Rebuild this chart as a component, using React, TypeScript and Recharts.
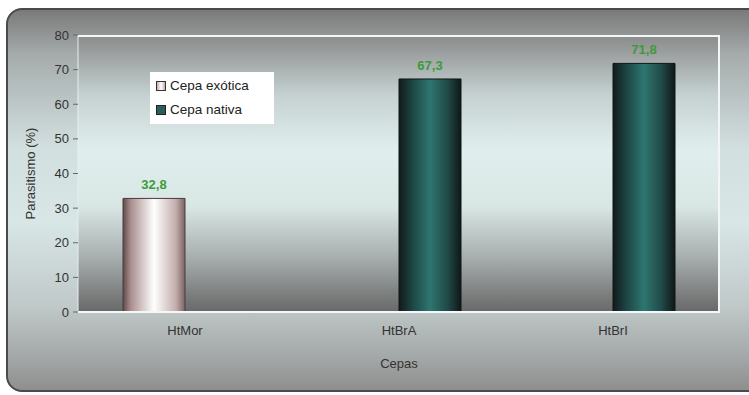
import React from 'react';
import { BarChart, Bar, XAxis, YAxis, CartesianGrid, LabelList, Legend, Label } from 'recharts';

const categories = ['HtMor', 'HtBrA', 'HtBrI'];
const exotica = [32.8, null, null];
const nativa = [null, 67.3, 71.8];
const yTicks = [0, 10, 20, 30, 40, 50, 60, 70, 80];

const data = categories.map((c, i) => ({ name: c, exotica: exotica[i], nativa: nativa[i] }));

const FONT = 'Arial, "Liberation Sans", sans-serif';

const fmt = (v: any) => (v == null ? '' : String(v).replace('.', ','));

const LegendBox = () => (
  <div
    style={{
      background: '#ffffff',
      width: 124,
      height: 52,
      boxSizing: 'border-box',
      padding: '2px 0 0 6px',
      fontFamily: FONT,
      fontSize: 13.5,
      color: '#222',
      lineHeight: '24px',
    }}
  >
    <div style={{ display: 'flex', alignItems: 'center' }}>
      <span style={{ width: 8, height: 8, border: '1.5px solid #333', background: 'linear-gradient(90deg,#caa,#fff,#caa)', marginRight: 4, display: 'inline-block' }} />
      Cepa exótica
    </div>
    <div style={{ display: 'flex', alignItems: 'center' }}>
      <span style={{ width: 8, height: 8, border: '1.5px solid #222', background: '#2a5e5a', marginRight: 4, display: 'inline-block' }} />
      Cepa nativa
    </div>
  </div>
);

export default function App() {
  return (
    <div style={{ position: 'absolute', left: 0, top: 0, width: 749, height: 395, overflow: 'hidden', background: '#ffffff' }}>
      <div
        style={{
          position: 'absolute',
          left: 6,
          top: 8,
          width: 770,
          height: 384,
          boxSizing: 'border-box',
          border: '2px solid #4a4a4a',
          borderRadius: 16,
          background:
            'linear-gradient(180deg, #7a7a7a 0%, #a6acac 12%, #d2dfdf 36%, #d8e6e6 56%, #c0c8c8 78%, #a2a6a6 92%, #8e8e8e 100%)',
        }}
      />
      <div style={{ position: 'absolute', left: 0, top: 0 }}>
        <BarChart
          width={749}
          height={395}
          data={data}
          margin={{ top: 35, right: 29, left: 0, bottom: 0 }}
          barGap={0}
          barSize={62}
        >
          <defs>
            <linearGradient id="plotGrad" x1="0" y1="0" x2="0" y2="1">
              <stop offset="0%" stopColor="#8a8a8a" />
              <stop offset="22%" stopColor="#c6d2d2" />
              <stop offset="42%" stopColor="#e0efed" />
              <stop offset="62%" stopColor="#d8e6e4" />
              <stop offset="80%" stopColor="#a8afaf" />
              <stop offset="100%" stopColor="#686868" />
            </linearGradient>
            <linearGradient id="exoGrad" x1="0" y1="0" x2="1" y2="0">
              <stop offset="0%" stopColor="#5e4a4b" />
              <stop offset="12%" stopColor="#a88c8d" />
              <stop offset="50%" stopColor="#ffffff" />
              <stop offset="85%" stopColor="#c4aeae" />
              <stop offset="100%" stopColor="#7a6263" />
            </linearGradient>
            <linearGradient id="natGrad" x1="0" y1="0" x2="1" y2="0">
              <stop offset="0%" stopColor="#111a1a" />
              <stop offset="22%" stopColor="#1d4644" />
              <stop offset="50%" stopColor="#2e7670" />
              <stop offset="78%" stopColor="#204a48" />
              <stop offset="100%" stopColor="#0f1818" />
            </linearGradient>
          </defs>
          <CartesianGrid horizontal={false} vertical={false} fill="url(#plotGrad)" />
          <XAxis
            dataKey="name"
            height={83}
            axisLine={{ stroke: '#f4f8f8', strokeWidth: 2 }}
            tickLine={false}
            tickSize={6}
            tickMargin={8}
            tick={{ fill: '#333', fontSize: 13, fontFamily: FONT }}
          >
            <Label value="Cepas" position="insideBottom" offset={27} fill="#333" fontSize={13} fontFamily={FONT} />
          </XAxis>
          <YAxis
            width={78}
            domain={[0, 80]}
            ticks={yTicks}
            interval={0}
            axisLine={{ stroke: '#e8eeee', strokeWidth: 1 }}
            tickLine={{ stroke: '#666' }}
            tickSize={5}
            tickMargin={4}
            tick={{ fill: '#333', fontSize: 13, fontFamily: FONT }}
          >
            <Label value="Parasitismo (%)" angle={-90} position="center" dx={-9} fill="#333" fontSize={13} fontFamily={FONT} />
          </YAxis>
          <Legend
            layout="horizontal"
            verticalAlign="middle"
            align="center"
            wrapperStyle={{ left: 150, top: 72, width: 124, height: 52 }}
            content={() => <LegendBox />}
          />
          <Bar dataKey="exotica" fill="url(#exoGrad)" stroke="#4a3c3c" strokeWidth={1} isAnimationActive={false}>
            <LabelList dataKey="exotica" position="top" offset={9} formatter={fmt} fill="#3c9a3c" fontSize={13} fontWeight="bold" fontFamily={FONT} />
          </Bar>
          <Bar dataKey="nativa" fill="url(#natGrad)" stroke="#0e1616" strokeWidth={1} isAnimationActive={false}>
            <LabelList dataKey="nativa" position="top" offset={9} formatter={fmt} fill="#3c9a3c" fontSize={13} fontWeight="bold" fontFamily={FONT} />
          </Bar>
        </BarChart>
      </div>
      <div
        style={{
          position: 'absolute',
          left: 78,
          top: 35,
          width: 642,
          height: 277,
          boxSizing: 'border-box',
          borderTop: '2px solid #f2f6f6',
          borderRight: '2px solid #f2f6f6',
          pointerEvents: 'none',
        }}
      />
    </div>
  );
}
